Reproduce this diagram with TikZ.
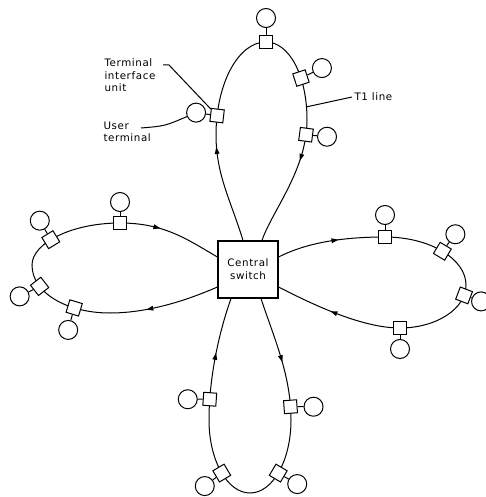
\documentclass[tikz,border=0pt]{standalone}
\usepackage{fontspec}
\setsansfont[LetterSpace=6]{DejaVu Sans}
\usetikzlibrary{shapes.geometric}

\begin{document}
\begin{tikzpicture}[
    x=1pt, y=-1pt,
    line width=1pt,
    font=\sffamily\fontsize{10.3}{12.8}\selectfont,
    box/.style={
      draw=black, line width=1.2pt,
      minimum width=60pt, minimum height=57pt,
      align=center, inner sep=2pt
    },
    tiu/.style={draw=black, fill=white, minimum size=13pt, inner sep=0pt, sloped},
    ut/.style={draw=black, fill=white, circle, minimum size=19pt, inner sep=0pt},
    flow/.style={
      isosceles triangle, isosceles triangle apex angle=40,
      fill=black, inner sep=0pt, minimum size=5pt,
      sloped, allow upside down
    },
    lbl/.style={align=left, inner sep=0pt}
  ]
  \useasboundingbox (0,0) rectangle (485,497);

  % ===== Central switch =====
  \node[box] (cs) at (248,269.5) {Central\\switch};

  % ===== Top loop =====
  \draw ([xshift=-5pt]cs.north)
      .. controls (231,201) and (216,175) .. (216,135) node[flow, pos=0.85] (ft1) {}
      .. controls (216,84) and (238,42) .. (266,42) node[tiu, pos=0.13] (t3) {} node[tiu, pos=1] (t1) {}
      .. controls (289,42) and (307,75) .. (307,120) node[tiu, pos=0.65] (t2) {} coordinate[pos=0.9] (tline)
      .. controls (307,170) and (272,211) .. ([xshift=14pt]cs.north) node[tiu, pos=0.1] (t4) {} node[flow, pos=0.25] (ft2) {};

  % ===== Right loop =====
  \draw ([yshift=12.5pt]cs.east)
      .. controls (308,242) and (345,237) .. (385,237) node[flow, pos=0.55] (fr1) {} node[tiu, pos=1] (r1) {}
      .. controls (430,237) and (466,259) .. (466,285) node[tiu, pos=0.5] (r2) {}
      .. controls (466,309) and (436,328) .. (400,328) node[tiu, pos=0.15] (r3) {} node[tiu, pos=1] (r4) {}
      .. controls (360,328) and (308,302) .. ([yshift=-17.5pt]cs.east) node[flow, pos=0.5] (fr2) {};

  % ===== Left loop =====
  \draw ([yshift=-17.5pt]cs.west)
      .. controls (190,299) and (150,313) .. (110,313) node[flow, pos=0.65] (fl1) {}
      .. controls (67,313) and (32,293) .. (32,265) node[tiu, pos=0.3] (l4) {} node[tiu, pos=0.72] (l3) {}
      .. controls (32,243) and (72,223) .. (120,223) node[tiu, pos=0.42] (l2) {} node[tiu, pos=1] (l1) {}
      .. controls (165,223) and (188,240) .. ([yshift=12.5pt]cs.west) node[flow, pos=0.3] (fl2) {};

  % ===== Bottom loop =====
  \draw ([xshift=13pt]cs.south)
      .. controls (274,338) and (291,375) .. (291,420) node[flow, pos=0.5] (fb1) {} node[tiu, pos=0.9] (b1) {}
      .. controls (291,460) and (273,493) .. (250,493) node[tiu, pos=0.52] (b3) {}
      .. controls (227,493) and (209,460) .. (209,420) node[tiu, pos=0.48] (b4) {}
      .. controls (209,380) and (218,335) .. ([xshift=-17pt]cs.south) node[tiu, pos=0.17] (b2) {} node[flow, pos=0.5] (fb2) {};

  % User terminals
  \foreach \s/\u/\dx/\dy in {t1/u1/0/-24, t2/u2/21/-10, t3/u3/-21/-3, t4/u4/21/2,
      r1/v1/0/-22, r2/v2/13/-17, r3/v3/17/6, r4/v4/0/21,
      l1/w1/0/-21, l2/w2/-11/-19, l3/w3/-20/10, l4/w4/-6/22,
      b1/z1/23/0, b2/z2/-22/0, b3/z3/19/11, b4/z4/-17/13} {
    \node[ut] (\u) at ([shift={(\dx,\dy)}]\s) {};
    \draw (\s) -- (\u);
  }

  % Labels
  \node[lbl, anchor=north west] (tiulbl) at (104,58) {Terminal\\interface\\unit};
  \node[lbl, anchor=north west] (utlbl) at (103,121) {User\\terminal};
  \node[lbl, anchor=west] (t1lbl) at (354,97) {T1 line};

  \coordinate (tiuend) at (163,65);
  \coordinate (utend) at (141,128);
  \draw (tiuend) -- ++(6,0) -- (t3);
  \draw (utend) .. controls (165,126) .. (u3);
  \draw (tline) -- ([xshift=-2pt]t1lbl.west);
\end{tikzpicture}
\end{document}
